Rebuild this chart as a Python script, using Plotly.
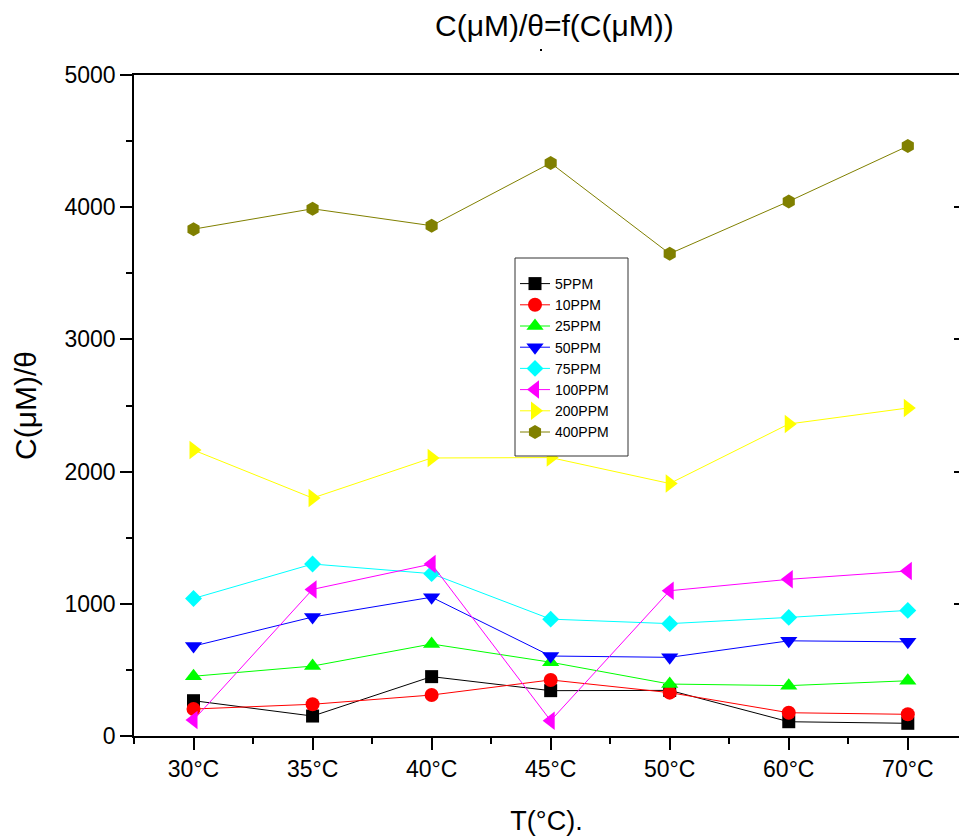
import plotly.graph_objects as go

categories = ["30°C", "35°C", "40°C", "45°C", "50°C", "60°C", "70°C"]
series_names = ["5PPM", "10PPM", "25PPM", "50PPM", "75PPM", "100PPM", "200PPM", "400PPM"]

ppm5 = [267, 151, 449, 343, 345, 108, 96]
ppm10 = [204, 240, 310, 424, 328, 176, 164]
ppm25 = [452, 529, 696, 558, 393, 381, 418]
ppm50 = [680, 900, 1050, 605, 595, 720, 712]
ppm75 = [1040, 1301, 1228, 884, 850, 897, 950]
ppm100 = [121, 1109, 1301, 116, 1099, 1185, 1248]
ppm200 = [2163, 1800, 2103, 2106, 1910, 2360, 2481]
ppm400 = [3834, 3988, 3860, 4334, 3648, 4044, 4462]

values = [ppm5, ppm10, ppm25, ppm50, ppm75, ppm100, ppm200, ppm400]
colors = ["#000000", "#FF0000", "#00FF00", "#0000FF", "#00FFFF", "#FF00FF", "#FFFF00", "#808000"]
symbols = ["square", "circle", "triangle-up", "triangle-down", "diamond",
           "triangle-left", "triangle-right", "hexagon"]
sizes = [13, 14, 15, 15, 13, 16, 16, 14]

xpos = list(range(len(categories)))

# plot-area pixel geometry
L, R, T, B = 134, 959, 75, 736
PW, PH = R - L, B - T


def px(x):
    return (x - L) / PW


def py(y):
    return (B - y) / PH


fig = go.Figure()
for name, vals, col, sym, sz in zip(series_names, values, colors, symbols, sizes):
    fig.add_trace(go.Scatter(
        x=xpos, y=vals, name=name, mode="lines+markers",
        line=dict(color=col, width=1),
        marker=dict(symbol=sym, size=sz, color=col, line=dict(width=0)),
    ))

# invisible trace to activate right axis ticks
fig.add_trace(go.Scatter(x=[0], y=[0], yaxis="y2", showlegend=False,
                         mode="markers", marker=dict(opacity=0), hoverinfo="skip"))

font_family = "Liberation Sans, Arial, sans-serif"

fig.update_layout(
    width=959, height=836,
    margin=dict(l=L, r=959 - R, t=T, b=836 - B, autoexpand=False),
    paper_bgcolor="white", plot_bgcolor="white",
    font=dict(family=font_family, color="black"),
    showlegend=True,
    legend=dict(
        x=px(515), y=py(268), xanchor="left", yanchor="top",
        bgcolor="rgba(0,0,0,0)", borderwidth=0,
        font=dict(size=14, family=font_family),
        tracegroupgap=0, itemwidth=30,
    ),
    xaxis=dict(
        range=[-0.5, 6.43], tickmode="array", tickvals=xpos, ticktext=categories,
        showgrid=False, zeroline=False, showline=True, linecolor="black", linewidth=1.5,
        mirror=True, ticks="outside", ticklen=12, tickwidth=1.5, tickcolor="black",
        tickfont=dict(size=23),
        minor=dict(tickmode="array", tickvals=[-0.5, 0.5, 1.5, 2.5, 3.5, 4.5, 5.5],
                   ticks="outside", ticklen=6, tickwidth=1.5, tickcolor="black"),
        title=dict(text="T(°C).", font=dict(size=27), standoff=38),
    ),
    yaxis=dict(
        range=[0, 5000], tickmode="linear", tick0=0, dtick=1000,
        showgrid=False, zeroline=False, showline=True, linecolor="black", linewidth=1.5,
        mirror=False, ticks="outside", ticklen=12, tickwidth=1.5, tickcolor="black",
        tickfont=dict(size=23),
        minor=dict(dtick=500, ticks="outside", ticklen=6, tickwidth=1.5, tickcolor="black"),
        title=dict(text="C(μM)/θ", font=dict(size=30), standoff=19),
    ),
    yaxis2=dict(
        overlaying="y", side="right", range=[0, 5000], tickmode="array",
        tickvals=[1000, 2000, 3000, 4000], ticks="inside", ticklen=5, tickwidth=1.5,
        tickcolor="black", showticklabels=False, showgrid=False, zeroline=False,
        showline=False,
    ),
)

# legend frame (white box drawn over data, legend items on top)
fig.add_shape(type="rect", xref="paper", yref="paper",
              x0=px(515), x1=px(628), y0=py(456), y1=py(258),
              line=dict(color="#333333", width=1), fillcolor="white", layer="above")

# small stray dot under the title, as in the original
fig.add_shape(type="rect", xref="paper", yref="paper",
              x0=px(540), x1=px(542), y0=py(51), y1=py(49),
              line=dict(width=0), fillcolor="black", layer="above")

fig.add_annotation(
    text="C(μM)/θ=f(C(μM))", xref="paper", yref="paper",
    x=px(554), y=1.0, xanchor="center", yanchor="bottom", yshift=31,
    showarrow=False, font=dict(size=30, family=font_family, color="black"),
)

fig.write_html("out.html")
